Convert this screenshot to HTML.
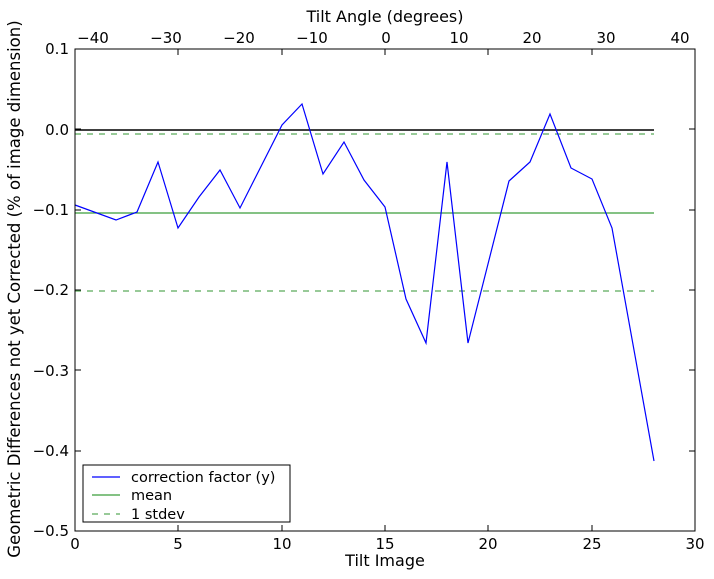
<!DOCTYPE html>
<html><head><meta charset="utf-8"><style>body{margin:0;background:#fff}svg{display:block}text{font-family:"DejaVu Sans","Liberation Sans",sans-serif;font-size:15px;fill:#000}</style></head><body>
<svg width="714" height="579" viewBox="0 0 714 579">
<rect x="0" y="0" width="714" height="579" fill="#fff"/>
<g fill="none">
<line x1="75" y1="130" x2="654" y2="130" stroke="#000" stroke-width="1.5"/>
<line x1="75" y1="213" x2="654" y2="213" stroke="#3a9e3a" stroke-width="1.2"/>
<line x1="75" y1="134" x2="654" y2="134" stroke="#5aaa5a" stroke-width="1.2" stroke-dasharray="6,6"/>
<line x1="75" y1="291" x2="654" y2="291" stroke="#5aaa5a" stroke-width="1.2" stroke-dasharray="6,6"/>
<polyline stroke="#0000ff" stroke-width="1.2" points="75,205 116,220 137,212 158,162 178,228 199,197 220,170 240,208 282,125 302,104 323,174 344,142 364,180 385,207 406,299 426,343 447,162 468,343 509,181 530,162 550,114 571,168 592,179 612,228 654,461"/>
<rect x="75" y="49" width="620" height="482" stroke="#000" stroke-width="1"/>
</g>
<g stroke="#000" stroke-width="1">
<line x1="75" y1="531" x2="75" y2="525"/><line x1="178" y1="531" x2="178" y2="525"/><line x1="282" y1="531" x2="282" y2="525"/><line x1="385" y1="531" x2="385" y2="525"/><line x1="488" y1="531" x2="488" y2="525"/><line x1="592" y1="531" x2="592" y2="525"/>
<line x1="178" y1="49" x2="178" y2="55"/><line x1="282" y1="49" x2="282" y2="55"/><line x1="385" y1="49" x2="385" y2="55"/><line x1="488" y1="49" x2="488" y2="55"/><line x1="592" y1="49" x2="592" y2="55"/>
<line x1="75" y1="129" x2="81" y2="129"/><line x1="75" y1="210" x2="81" y2="210"/><line x1="75" y1="290" x2="81" y2="290"/><line x1="75" y1="370" x2="81" y2="370"/><line x1="75" y1="451" x2="81" y2="451"/>
<line x1="695" y1="129" x2="689" y2="129"/><line x1="695" y1="210" x2="689" y2="210"/><line x1="695" y1="290" x2="689" y2="290"/><line x1="695" y1="370" x2="689" y2="370"/><line x1="695" y1="451" x2="689" y2="451"/>
</g>
<g text-anchor="middle">
<text x="75" y="549">0</text><text x="178" y="549">5</text><text x="282" y="549">10</text><text x="385" y="549">15</text><text x="488" y="549">20</text><text x="592" y="549">25</text><text x="695" y="549">30</text>
<text x="93" y="43">−40</text><text x="166" y="43">−30</text><text x="239" y="43">−20</text><text x="312" y="43">−10</text><text x="386" y="43">0</text><text x="459" y="43">10</text><text x="532" y="43">20</text><text x="606" y="43">30</text><text x="680" y="43">40</text>
<text x="385" y="566" style="font-size:16px">Tilt Image</text>
<text x="385" y="22" style="font-size:16px">Tilt Angle (degrees)</text>
<text transform="translate(20,289) rotate(-90)" style="font-size:16.5px">Geometric Differences not yet Corrected (% of image dimension)</text>
</g>
<g text-anchor="end">
<text x="69" y="54">0.1</text><text x="69" y="135">0.0</text><text x="69" y="215">−0.1</text><text x="69" y="295">−0.2</text><text x="69" y="376">−0.3</text><text x="69" y="456">−0.4</text><text x="69" y="536">−0.5</text>
</g>
<rect x="83" y="465" width="207" height="57" fill="#fff" stroke="#000" stroke-width="1"/>
<line x1="92" y1="477" x2="120" y2="477" stroke="#0000ff" stroke-width="1.2"/>
<line x1="92" y1="495" x2="120" y2="495" stroke="#3a9e3a" stroke-width="1.2"/>
<line x1="92" y1="514" x2="120" y2="514" stroke="#5aaa5a" stroke-width="1.2" stroke-dasharray="6,6"/>
<text x="131" y="482" style="font-size:14.5px">correction factor (y)</text>
<text x="131" y="500" style="font-size:14.5px">mean</text>
<text x="131" y="519" style="font-size:14.5px">1 stdev</text>
</svg>
</body></html>
